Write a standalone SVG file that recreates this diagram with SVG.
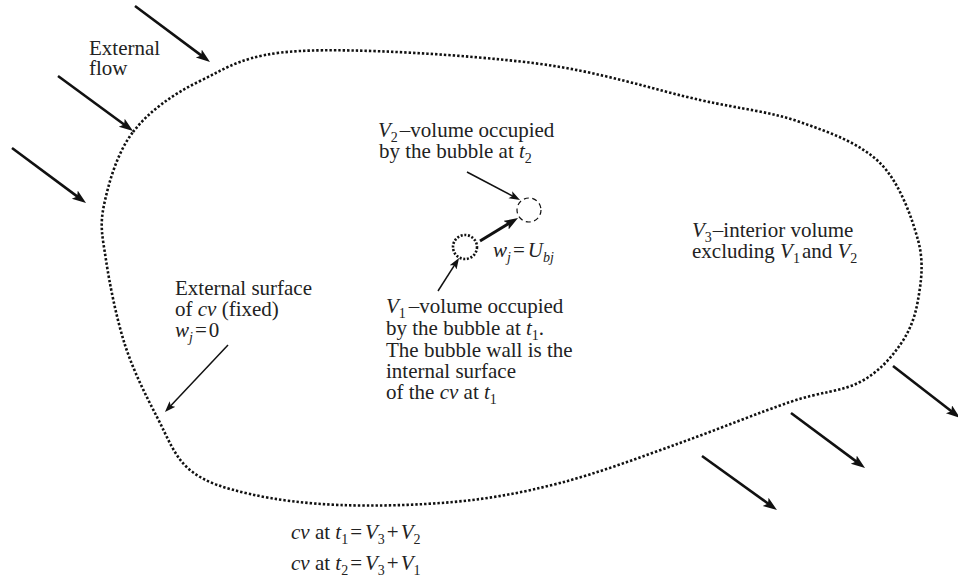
<svg xmlns="http://www.w3.org/2000/svg" width="958" height="580" viewBox="0 0 958 580">
<style>
text{font-family:'Liberation Serif','Times New Roman',Tinos,'DejaVu Serif',serif;font-size:21px;fill:#222}
.i{font-style:italic}
.s{font-size:14px}
.outline{fill:none;stroke:#111;stroke-width:2.6;stroke-dasharray:2.4 2}
.flow{stroke:#111;stroke-width:2.6;fill:none}
.thin{stroke:#111;stroke-width:1.5;fill:none}
.thick{stroke:#111;stroke-width:3;fill:none}
</style>
<defs>
<marker id="hb" markerUnits="userSpaceOnUse" markerWidth="16" markerHeight="12" refX="8" refY="5" orient="auto"><path d="M0,0 L14,5 L0,10 L3,5 z" fill="#111"/></marker>
<marker id="ht" markerUnits="userSpaceOnUse" markerWidth="12" markerHeight="10" refX="7" refY="4" orient="auto"><path d="M0,0 L11,4 L0,8 L2.5,4 z" fill="#111"/></marker>
</defs>
<g id="control-volume">
<path class="outline" d="M133,132 C149,111.3 172.2,94.5 200,81 C227.8,67.5 244.5,54 300,51 C355.5,48 466.3,54.8 533,63 C599.7,71.2 655.5,90.2 700,100 C744.5,109.8 770,111.5 800,122 C830,132.5 860.3,143.3 880,163 C899.7,182.7 911.7,217.2 918,240 C924.3,262.8 921,282.5 918,300 C915,317.5 909.7,331.3 900,345 C890.3,358.7 878.3,372.5 860,382 C841.7,391.5 820,391.8 790,402 C760,412.2 718.3,429.2 680,443 C641.7,456.8 597.8,473.2 560,483 C522.2,492.8 489.7,498.7 453,502 C416.3,505.3 373.8,506.3 340,505 C306.2,503.7 275,499.8 250,494 C225,488.2 205.5,482.8 190,470 C174.5,457.2 167.8,437.8 157,417 C146.2,396.2 133.5,371.2 125,345 C116.5,318.8 109.5,283.3 106,260 C102.5,236.7 99.5,226.3 104,205 C108.5,183.7 117,152.7 133,132 Z"/>
</g>
<g id="bubble-t1">
<circle cx="465" cy="247" r="12" fill="none" stroke="#111" stroke-width="2.6" stroke-dasharray="2 1.7"/>
</g>
<g id="bubble-t2">
<circle cx="529" cy="210" r="12" fill="none" stroke="#111" stroke-width="1.2" stroke-dasharray="5 3.5"/>
</g>
<g id="connectors">
<line class="flow" x1="135" y1="6" x2="205.2" y2="58.4" marker-end="url(#hb)"/>
<line class="flow" x1="58" y1="76" x2="128.2" y2="127.5" marker-end="url(#hb)"/>
<line class="flow" x1="12" y1="148" x2="81.2" y2="199.4" marker-end="url(#hb)"/>
<line class="flow" x1="893" y1="366" x2="955.3" y2="414.3" marker-end="url(#hb)"/>
<line class="flow" x1="791" y1="413" x2="860.2" y2="464.4" marker-end="url(#hb)"/>
<line class="flow" x1="702" y1="456" x2="772.1" y2="506.5" marker-end="url(#hb)"/>
<line class="thick" x1="480" y1="241" x2="512.9" y2="221.1" marker-end="url(#hb)"/>
<line class="thin" x1="467" y1="172" x2="516.5" y2="198.1" marker-end="url(#ht)"/>
<line class="thin" x1="438" y1="291" x2="456.9" y2="261.4" marker-end="url(#ht)"/>
<line class="thin" x1="228" y1="345" x2="167.7" y2="409.1" marker-end="url(#ht)"/>
</g>
<g id="label-external-flow">
<text x="89" y="55">External</text>
<text x="89" y="75">flow</text>
</g>
<g id="label-v2">
<text x="378" y="137"><tspan class="i">V</tspan><tspan class="s" dy="5">2</tspan><tspan dy="-5" dx="2">–volume occupied</tspan></text>
<text x="379" y="158">by the bubble at <tspan class="i">t</tspan><tspan class="s" dy="5">2</tspan></text>
</g>
<g id="label-v3">
<text x="692" y="237"><tspan class="i">V</tspan><tspan class="s" dy="5">3</tspan><tspan dy="-5" dx="1">–interior volume</tspan></text>
<text x="692" y="258">excluding <tspan class="i">V</tspan><tspan class="s" dy="5">1</tspan><tspan dy="-5" dx="2">and </tspan><tspan class="i">V</tspan><tspan class="s" dy="5">2</tspan></text>
</g>
<g id="label-external-surface">
<text x="175" y="295">External surface</text>
<text x="175" y="316">of <tspan class="i">cv</tspan> (fixed)</text>
<text x="175" y="337"><tspan class="i">w</tspan><tspan class="i s" dy="5">j</tspan><tspan dy="-5" dx="2">=</tspan><tspan dx="2">0</tspan></text>
</g>
<g id="label-wj">
<text x="493" y="257"><tspan class="i">w</tspan><tspan class="i s" dy="5">j</tspan><tspan dy="-5" dx="2">=</tspan><tspan class="i" dx="3">U</tspan><tspan class="i s" dy="5">bj</tspan></text>
</g>
<g id="label-v1">
<text x="386" y="313"><tspan class="i">V</tspan><tspan class="s" dy="5">1</tspan><tspan dy="-5" dx="3">–volume occupied</tspan></text>
<text x="386" y="335">by the bubble at <tspan class="i">t</tspan><tspan class="s" dy="5">1</tspan><tspan dy="-5">.</tspan></text>
<text x="386" y="357">The bubble wall is the</text>
<text x="386" y="378">internal surface</text>
<text x="386" y="399">of the <tspan class="i">cv</tspan> at <tspan class="i">t</tspan><tspan class="s" dy="5">1</tspan></text>
</g>
<g id="label-equations">
<text x="291" y="539"><tspan class="i">cv</tspan> at <tspan class="i">t</tspan><tspan class="s" dy="5">1</tspan><tspan dy="-5" dx="2">=</tspan><tspan class="i" dx="3">V</tspan><tspan class="s" dy="5">3</tspan><tspan dy="-5" dx="2">+</tspan><tspan class="i" dx="2">V</tspan><tspan class="s" dy="5">2</tspan></text>
<text x="291" y="570"><tspan class="i">cv</tspan> at <tspan class="i">t</tspan><tspan class="s" dy="5">2</tspan><tspan dy="-5" dx="2">=</tspan><tspan class="i" dx="3">V</tspan><tspan class="s" dy="5">3</tspan><tspan dy="-5" dx="2">+</tspan><tspan class="i" dx="2">V</tspan><tspan class="s" dy="5">1</tspan></text>
</g>
</svg>
